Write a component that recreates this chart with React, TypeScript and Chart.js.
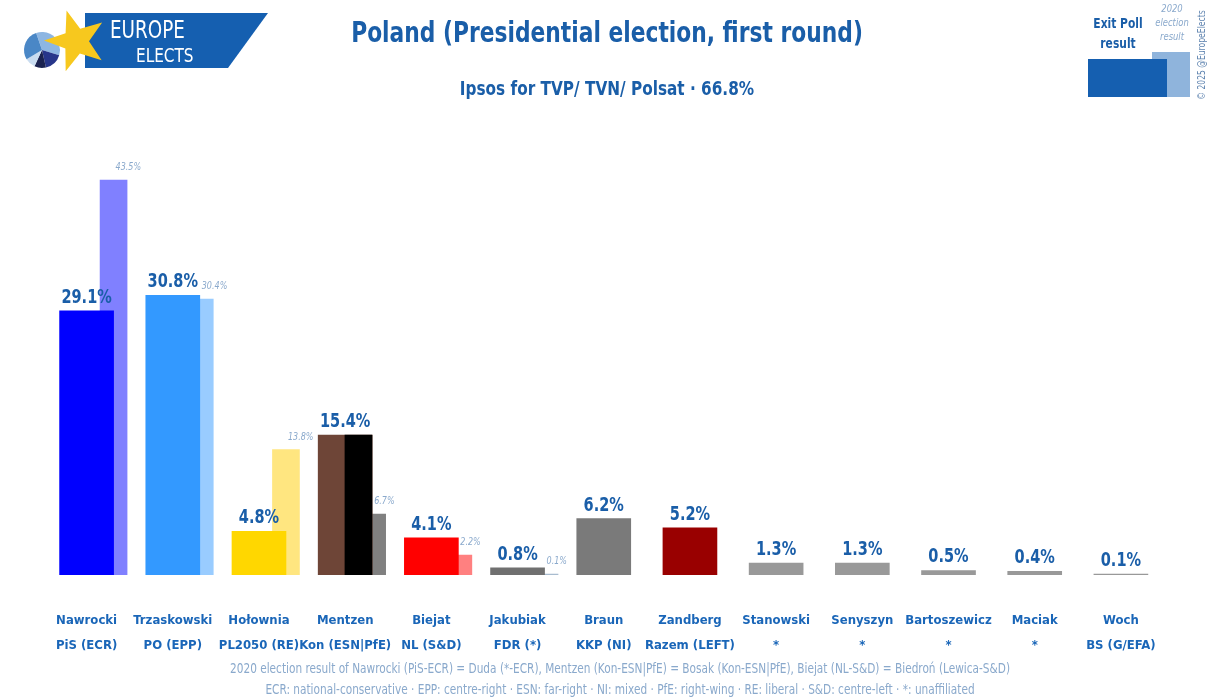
import React, { useEffect, useRef } from "react";
import { Chart, registerables } from "chart.js";

Chart.register(...registerables);

const candidates = ["Nawrocki", "Trzaskowski", "Hołownia", "Mentzen", "Biejat", "Jakubiak", "Braun", "Zandberg", "Stanowski", "Senyszyn", "Bartoszewicz", "Maciak", "Woch"];
const parties = ["PiS (ECR)", "PO (EPP)", "PL2050 (RE)", "Kon (ESN|PfE)", "NL (S&D)", "FDR (*)", "KKP (NI)", "Razem (LEFT)", "*", "*", "*", "*", "BS (G/EFA)"];
const exitPoll = [29.1, 30.8, 4.8, 15.4, 4.1, 0.8, 6.2, 5.2, 1.3, 1.3, 0.5, 0.4, 0.1];
const result2020: (number | null)[] = [43.5, 30.4, 13.8, 6.7, 2.2, 0.1, null, null, null, null, null, null, null];
const mainColors = ["#0000ff", "#3399ff", "#ffd700", "#6e4537", "#ff0000", "#707070", "#7a7a7a", "#990000", "#999999", "#999999", "#999999", "#999999", "#999999"];
const colors2020 = ["#8080ff", "#99ccff", "#ffe680", "#808080", "#ff8080", "#a9bccf"];
const secondHalfColor = "#000000";
const secondHalfIndex = 3;

const FONT = "'DejaVu Sans Condensed', 'DejaVu Sans', sans-serif";
const DARK = "#1a5ea8";
const LIGHT = "#8aa9cc";
const OFFSET_2020 = 0.313;
const HALF_OFFSET = 0.154;
const SX = 0.85;

const title = "Poland (Presidential election, first round)";
const subtitle = "Ipsos for TVP/ TVN/ Polsat · 66.8%";
const footnote1 = "2020 election result of Nawrocki (PiS-ECR) = Duda (*-ECR), Mentzen (Kon-ESN|PfE) = Bosak (Kon-ESN|PfE), Biejat (NL-S&D) = Biedroń (Lewica-S&D)";
const footnote2 = "ECR: national-conservative · EPP: centre-right · ESN: far-right · NI: mixed · PfE: right-wing · RE: liberal · S&D: centre-left · *: unaffiliated";

function drawStar(ctx: CanvasRenderingContext2D, cx: number, cy: number, ro: number, ri: number, rot: number) {
  ctx.beginPath();
  for (let i = 0; i < 10; i++) {
    const r = i % 2 === 0 ? ro : ri;
    const a = rot + (i * Math.PI) / 5;
    const x = cx + r * Math.sin(a);
    const y = cy - r * Math.cos(a);
    if (i === 0) ctx.moveTo(x, y);
    else ctx.lineTo(x, y);
  }
  ctx.closePath();
  ctx.fill();
}

function text(ctx: CanvasRenderingContext2D, s: string, x: number, y: number, sx = SX) {
  ctx.save();
  ctx.translate(x, y);
  ctx.scale(sx, 1);
  ctx.fillText(s, 0, 0);
  ctx.restore();
}

const decorPlugin = {
  id: "decor",
  afterDraw(chart: any) {
    const ctx: CanvasRenderingContext2D = chart.ctx;
    ctx.save();
    // Logo
    ctx.fillStyle = "#155fb0";
    ctx.beginPath();
    ctx.moveTo(85, 13);
    ctx.lineTo(268, 13);
    ctx.lineTo(228, 68);
    ctx.lineTo(85, 68);
    ctx.closePath();
    ctx.fill();
    const pcx = 42, pcy = 50, pr = 18;
    const slices: [number, number, string][] = [
      [-1.9, 0.3, "#8db6e2"],
      [0.3, 1.35, "#27368a"],
      [1.35, 2.0, "#1b2350"],
      [2.0, 2.6, "#c9dcf0"],
      [2.6, 4.38, "#4a87c6"],
    ];
    for (const [a0, a1, c] of slices) {
      ctx.fillStyle = c;
      ctx.beginPath();
      ctx.moveTo(pcx, pcy);
      ctx.arc(pcx, pcy, pr, a0, a1);
      ctx.closePath();
      ctx.fill();
    }
    ctx.fillStyle = "#f7c81e";
    drawStar(ctx, 76, 41, 32, 13, -0.3);
    ctx.fillStyle = "#ffffff";
    ctx.textAlign = "left";
    ctx.textBaseline = "alphabetic";
    ctx.font = `24px ${FONT}`;
    text(ctx, "EUROPE", 110, 38);
    ctx.font = `20px ${FONT}`;
    text(ctx, "ELECTS", 136, 62);

    // Title
    ctx.fillStyle = DARK;
    ctx.textAlign = "center";
    ctx.textBaseline = "middle";
    ctx.font = `bold 28.5px ${FONT}`;
    text(ctx, title, 607, 35);
    ctx.font = `bold 20px ${FONT}`;
    text(ctx, subtitle, 607, 90);

    // Legend
    ctx.fillStyle = "#8fb4dc";
    ctx.fillRect(1152, 52, 38, 45);
    ctx.fillStyle = "#155fb0";
    ctx.fillRect(1088, 59, 79, 38);
    ctx.fillStyle = DARK;
    ctx.font = `bold 14px ${FONT}`;
    text(ctx, "Exit Poll", 1118, 24);
    text(ctx, "result", 1118, 44);
    ctx.fillStyle = LIGHT;
    ctx.font = `italic 11px ${FONT}`;
    text(ctx, "2020", 1172, 9);
    text(ctx, "election", 1172, 23);
    text(ctx, "result", 1172, 37);
    ctx.save();
    ctx.translate(1202, 55);
    ctx.rotate(-Math.PI / 2);
    ctx.fillStyle = "#5f84b0";
    ctx.font = `10px ${FONT}`;
    text(ctx, "© 2025 @EuropeElects", 0, 0);
    ctx.restore();

    // Value labels
    const mainMeta = chart.getDatasetMeta(1);
    ctx.fillStyle = DARK;
    ctx.font = `bold 19px ${FONT}`;
    ctx.textAlign = "center";
    ctx.textBaseline = "alphabetic";
    mainMeta.data.forEach((el: any, i: number) => {
      text(ctx, exitPoll[i].toFixed(1) + "%", el.x, el.y - 8);
    });
    const meta2020 = chart.getDatasetMeta(2);
    ctx.fillStyle = LIGHT;
    ctx.font = `italic 10.5px ${FONT}`;
    ctx.textAlign = "left";
    meta2020.data.forEach((el: any, i: number) => {
      const v = result2020[i];
      if (v == null) return;
      text(ctx, v.toFixed(1) + "%", el.x + 2, el.y - 10);
    });

    // Footnotes
    ctx.fillStyle = LIGHT;
    ctx.font = `13.8px ${FONT}`;
    ctx.textAlign = "center";
    ctx.textBaseline = "middle";
    text(ctx, footnote1, 620, 669);
    text(ctx, footnote2, 620, 690);
    ctx.restore();
  },
};

export default function App() {
  const ref = useRef<HTMLCanvasElement>(null);
  useEffect(() => {
    document.body.style.margin = "0";
    const chart = new Chart(ref.current!, {
      type: "bar",
      data: {
        datasets: [
          {
            label: "second half",
            data: [{ x: secondHalfIndex + HALF_OFFSET, y: exitPoll[secondHalfIndex] }],
            backgroundColor: secondHalfColor,
            barThickness: 27,
            grouped: false,
            order: 0,
          } as any,
          {
            label: "Exit Poll",
            data: exitPoll.map((v, i) => ({ x: i, y: v })),
            backgroundColor: mainColors,
            barThickness: 54,
            grouped: false,
            order: 1,
          } as any,
          {
            label: "2020",
            data: result2020.map((v, i) => ({ x: i + OFFSET_2020, y: v })),
            backgroundColor: colors2020,
            barThickness: 27,
            grouped: false,
            order: 2,
          } as any,
        ],
      },
      options: {
        responsive: false,
        animation: false,
        events: [],
        layout: { padding: { top: 121, left: 43.5, right: 51, bottom: 0 } },
        plugins: { legend: { display: false }, tooltip: { enabled: false }, title: { display: false } },
        scales: {
          x: {
            type: "linear",
            min: -0.5,
            max: 12.5,
            offset: false,
            grid: { display: false, drawTicks: false },
            border: { display: false },
            afterBuildTicks: (scale: any) => {
              scale.ticks = candidates.map((_, i) => ({ value: i }));
            },
            afterFit: (scale: any) => {
              scale.height = 125;
            },
            ticks: {
              autoSkip: false,
              maxRotation: 0,
              padding: 33.5,
              color: "#1a66b8",
              font: { family: FONT, size: 13, weight: "bold", lineHeight: 1.92 },
              callback: (v: any) => [candidates[v], parties[v]],
            },
          },
          y: {
            display: false,
            min: 0,
            max: 50,
          },
        },
      },
      plugins: [decorPlugin],
    } as any);
    return () => chart.destroy();
  }, []);
  return (
    <div style={{ width: 1215, height: 700 }}>
      <canvas ref={ref} width={1215} height={700} style={{ display: "block" }} />
    </div>
  );
}
